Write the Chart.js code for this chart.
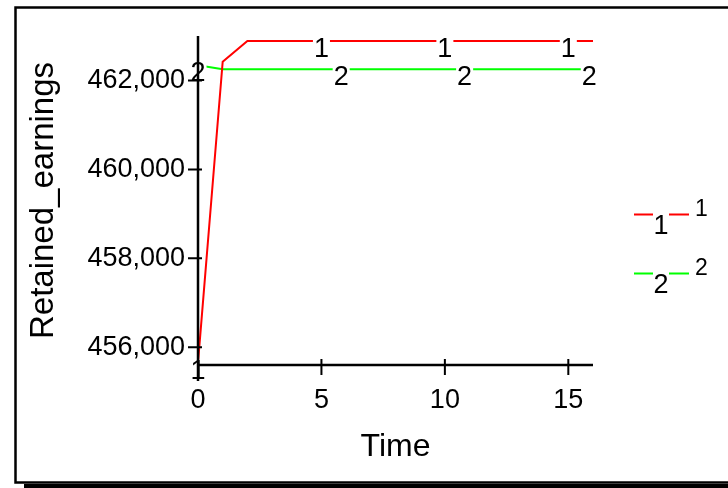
<!DOCTYPE html>
<html>
<head>
<meta charset="utf-8">
<script src="https://cdn.jsdelivr.net/npm/chart.js@4.4.0/dist/chart.umd.min.js"></script>
<style>
  html, body { margin: 0; padding: 0; background: #fff; }
  canvas { display: block; }
</style>
</head>
<body>
<canvas id="chart" width="728" height="488"></canvas>
<script>
// time axis and the two runs
var times = [0, 1, 2, 3, 4, 5, 6, 7, 8, 9, 10, 11, 12, 13, 14, 15, 16];
var run1 = [455650, 462420, 462890, 462890, 462890, 462890, 462890, 462890, 462890,
            462890, 462890, 462890, 462890, 462890, 462890, 462890, 462890];
var run2 = [462345, 462250, 462250, 462250, 462250, 462250, 462250, 462250, 462250,
            462250, 462250, 462250, 462250, 462250, 462250, 462250, 462250];
var runNames = ["1", "2"];
var xTickValues = [0, 5, 10, 15];
var yTickValues = [456000, 458000, 460000, 462000];
// where the run number is written on each line
var run1LabelTimes = [0, 5, 10, 15];
var run2LabelTimes = [0, 5.8, 10.8, 15.85];

var FONT = "'Liberation Sans', Arial, sans-serif";

function toPoints(xs, ys) {
    var pts = [];
    for (var i = 0; i < xs.length; i++) pts.push({ x: xs[i], y: ys[i] });
    return pts;
}

function valueAt(xs, ys, t) {
    for (var i = 0; i < xs.length - 1; i++) {
        if (t >= xs[i] && t <= xs[i + 1]) {
            var f = (t - xs[i]) / (xs[i + 1] - xs[i]);
            return ys[i] + f * (ys[i + 1] - ys[i]);
        }
    }
    return ys[ys.length - 1];
}

var vensimLook = {
    id: "vensimLook",
    beforeDraw: function (chart) {
        var ctx = chart.ctx;
        ctx.save();
        ctx.fillStyle = "#fff";
        ctx.fillRect(0, 0, chart.width, chart.height);
        // frame and its shadow
        ctx.strokeStyle = "#000";
        ctx.lineWidth = 2.5;
        ctx.strokeRect(15.5, 7.5, 800, 475);
        ctx.fillStyle = "#000";
        ctx.fillRect(24, 484, 800, 6);
        ctx.restore();
    },
    afterDatasetsDraw: function (chart) {
        var ctx = chart.ctx;
        var xs = chart.scales.x, ys = chart.scales.y;
        var area = chart.chartArea;
        var labelSets = [run1LabelTimes, run2LabelTimes];
        var runs = [run1, run2];

        ctx.save();
        ctx.font = "27px " + FONT;
        // cut gaps in the lines where the labels sit
        var marks = [];
        chart.data.datasets.forEach(function (ds, k) {
            labelSets[k].forEach(function (t) {
                var px = xs.getPixelForValue(t);
                var py = ys.getPixelForValue(valueAt(times, runs[k], t));
                var w = ctx.measureText(ds.label).width + 2;
                ctx.fillStyle = "#fff";
                ctx.fillRect(px - w / 2, py - 3, w, 6);
                marks.push({ x: px, y: py, text: ds.label });
            });
        });

        // axes with crossing ticks
        ctx.strokeStyle = "#000";
        ctx.lineWidth = 2.5;
        ctx.beginPath();
        ctx.moveTo(area.left, area.top);
        ctx.lineTo(area.left, area.bottom + 16);
        ctx.moveTo(area.left, area.bottom);
        ctx.lineTo(area.right, area.bottom);
        ctx.stroke();
        ctx.lineWidth = 2;
        ctx.beginPath();
        ys.ticks.forEach(function (tk) {
            var p = ys.getPixelForValue(tk.value);
            ctx.moveTo(area.left - 10, p);
            ctx.lineTo(area.left + 4, p);
        });
        xs.ticks.forEach(function (tk) {
            var p = xs.getPixelForValue(tk.value);
            ctx.moveTo(p, area.bottom - 6);
            ctx.lineTo(p, area.bottom + 10);
        });
        ctx.stroke();

        // run numbers on the lines
        ctx.fillStyle = "#000";
        ctx.textAlign = "center";
        ctx.textBaseline = "alphabetic";
        marks.forEach(function (m) {
            ctx.fillText(m.text, m.x, m.y + 16);
        });

        // legend at the right
        var legendY = [214.5, 273.5];
        chart.data.datasets.forEach(function (ds, k) {
            var y = legendY[k];
            ctx.strokeStyle = ds.borderColor;
            ctx.lineWidth = 2;
            ctx.beginPath();
            ctx.moveTo(634, y);
            ctx.lineTo(653, y);
            ctx.moveTo(669, y);
            ctx.lineTo(689, y);
            ctx.stroke();
            ctx.fillStyle = "#000";
            ctx.textAlign = "center";
            ctx.font = "27px " + FONT;
            ctx.fillText(ds.label, 661, y + 19);
            ctx.textAlign = "left";
            ctx.font = "23px " + FONT;
            ctx.fillText(ds.label, 695, y + 1.5);
        });
        ctx.restore();
    }
};

new Chart(document.getElementById("chart"), {
    type: "line",
    data: {
        datasets: [
            {
                label: runNames[0],
                data: toPoints(times, run1),
                borderColor: "#ff0000",
                borderWidth: 2,
                pointRadius: 0,
                tension: 0,
                fill: false
            },
            {
                label: runNames[1],
                data: toPoints(times, run2),
                borderColor: "#00ff00",
                borderWidth: 2,
                pointRadius: 0,
                tension: 0,
                fill: false
            }
        ]
    },
    options: {
        responsive: false,
        animation: false,
        devicePixelRatio: 1,
        layout: { padding: { left: 0, top: 36, right: 135, bottom: 0 } },
        plugins: {
            legend: { display: false },
            tooltip: { enabled: false }
        },
        scales: {
            x: {
                type: "linear",
                min: 0,
                max: 16,
                grid: { display: false, drawTicks: false },
                border: { display: false },
                afterBuildTicks: function (scale) {
                    scale.ticks = xTickValues.map(function (v) { return { value: v }; });
                },
                ticks: {
                    padding: 19,
                    maxRotation: 0,
                    color: "#000",
                    font: { family: FONT, size: 27 }
                },
                title: {
                    display: true,
                    text: "Time",
                    color: "#000",
                    font: { family: FONT, size: 32 },
                    padding: { top: 0, bottom: 22 }
                },
                afterFit: function (scale) { scale.height = 123; }
            },
            y: {
                type: "linear",
                min: 455600,
                max: 463000,
                grid: { display: false, drawTicks: false },
                border: { display: false },
                afterBuildTicks: function (scale) {
                    scale.ticks = yTickValues.map(function (v) { return { value: v }; });
                },
                ticks: {
                    padding: 13,
                    color: "#000",
                    font: { family: FONT, size: 27 }
                },
                title: {
                    display: true,
                    text: "Retained_earnings",
                    color: "#000",
                    font: { family: FONT, size: 33 },
                    padding: { top: 24, bottom: 0 }
                },
                afterFit: function (scale) { scale.width = 198; }
            }
        }
    },
    plugins: [vensimLook]
});
</script>
</body>
</html>
